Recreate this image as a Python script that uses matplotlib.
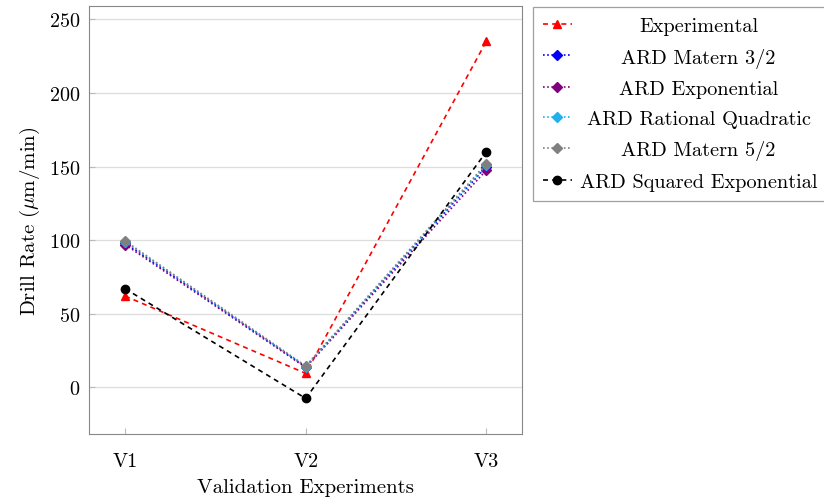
import matplotlib
matplotlib.use("Agg")
import matplotlib.pyplot as plt

plt.rcParams["font.family"] = "serif"
plt.rcParams["font.serif"] = ["cmr10"]
plt.rcParams["mathtext.fontset"] = "cm"
plt.rcParams["axes.formatter.use_mathtext"] = True

# data
experiments = ["V1", "V2", "V3"]
experimental = [62, 9.5, 235]
matern32 = [98, 14, 150]
exponential = [97, 13.5, 147.5]
rational_quad = [99, 14, 151]
matern52 = [99.5, 14.5, 152]
squared_exp = [67, -7.5, 160]

series = [
    ("Experimental", experimental, "red", "^", (0, (3, 2.5))),
    ("ARD Matern 3/2", matern32, "blue", "D", (0, (1, 1.5))),
    ("ARD Exponential", exponential, "#800080", "D", (0, (1, 1.5))),
    ("ARD Rational Quadratic", rational_quad, "#20b0f0", "D", (0, (1, 1.5))),
    ("ARD Matern 5/2", matern52, "gray", "D", (0, (1, 1.5))),
    ("ARD Squared Exponential", squared_exp, "black", "o", (0, (3, 2.5))),
]

fig = plt.figure(figsize=(8.24, 5.02), dpi=100)
ax = fig.add_axes([0.108, 0.134, 0.526, 0.852])
xs = list(range(1, len(experiments) + 1))
for name, vals, col, mk, ls in series:
    ax.plot(xs, vals, color=col, marker=mk, linestyle=ls, linewidth=1.2,
            markersize=6 if mk != "D" else 5.2, label=name)

ax.set_xlim(0.8, 3.2)
ax.set_ylim(-31.5, 259)
ax.set_xticks(xs)
ax.set_xticklabels(experiments)
ax.set_yticks([0, 50, 100, 150, 200, 250])
ax.yaxis.grid(True, color="#dddddd", linewidth=0.9)
ax.set_axisbelow(True)
ax.tick_params(direction="in", color="#bbbbbb", labelsize=14.5, length=4, pad=6)
ax.tick_params(axis="x", pad=13)
for s in ax.spines.values():
    s.set_color("#888888")
ax.set_xlabel("Validation Experiments", fontsize=15, labelpad=6)
ax.set_ylabel(r"Drill Rate ($\mu$m/min)", fontsize=15, labelpad=5)

leg = ax.legend(loc="upper left", bbox_to_anchor=(0.647, 0.984),
                bbox_transform=fig.transFigure, fontsize=14.6, frameon=True,
                fancybox=False, edgecolor="#888888", handlelength=1.4,
                handletextpad=0.4, labelspacing=0.6, borderpad=0.5,
                borderaxespad=0)
leg.get_frame().set_linewidth(0.9)

# centre the legend texts like pgfplots does
fig.canvas.draw()
r = fig.canvas.get_renderer()
texts = leg.get_texts()
widths = [t.get_window_extent(r).width for t in texts]
mw = max(widths)
for t, w in zip(texts, widths):
    t.set_position(((mw - w) / 2, 0))

fig.savefig("out.png", dpi=100)
